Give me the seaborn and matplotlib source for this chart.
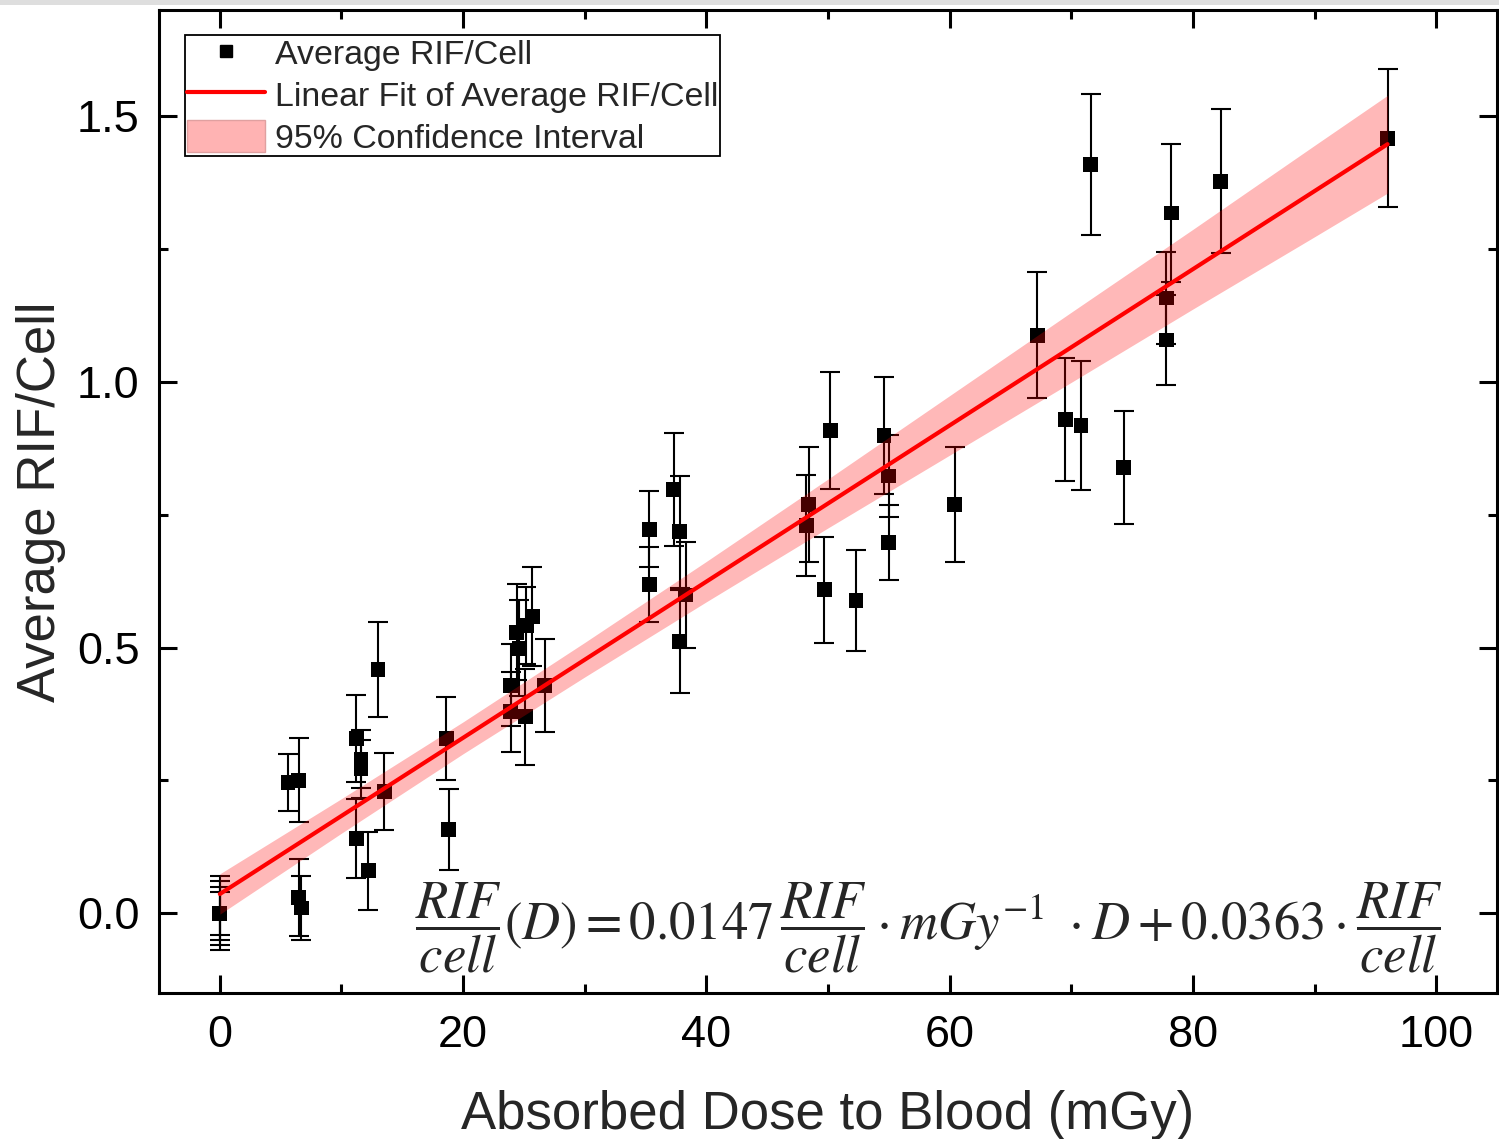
import matplotlib
matplotlib.use("Agg")
import matplotlib.pyplot as plt
from matplotlib.lines import Line2D
from matplotlib.patches import Patch, Rectangle
from matplotlib.ticker import MultipleLocator
import numpy as np
import pandas as pd
import seaborn as sns

# measured points (dose in mGy, average RIF per cell, error)
dose = [0, 0, 0, 0, 5.6, 6.5, 6.5, 6.7, 11.2, 11.6, 11.6, 11.2, 12.2, 13.0, 13.5,
        18.6, 18.8, 23.9, 23.9, 24.4, 24.6, 25.1, 25.2, 25.7, 26.7,
        35.3, 35.3, 37.3, 37.8, 38.3, 37.8,
        48.4, 48.2, 50.2, 49.7, 52.3, 54.6, 55.0, 55.0, 60.4,
        67.2, 69.5, 70.8, 71.6, 74.3, 78.2, 77.8, 77.8, 82.3, 96.0]
rif = [0.0, 0.0, 0.0, 0.0, 0.246, 0.250, 0.030, 0.010, 0.329, 0.290, 0.272, 0.141, 0.080, 0.459, 0.229,
       0.329, 0.158, 0.429, 0.379, 0.529, 0.499, 0.370, 0.542, 0.559, 0.429,
       0.723, 0.619, 0.798, 0.718, 0.599, 0.511,
       0.769, 0.730, 0.909, 0.609, 0.589, 0.900, 0.823, 0.698, 0.769,
       1.088, 0.929, 0.918, 1.409, 0.839, 1.318, 1.158, 1.079, 1.378, 1.459]
rif_err = [0.040, 0.050, 0.060, 0.070, 0.054, 0.079, 0.072, 0.060, 0.082, 0.055, 0.055, 0.074, 0.073, 0.090, 0.072,
           0.078, 0.076, 0.077, 0.076, 0.090, 0.090, 0.090, 0.072, 0.093, 0.088,
           0.072, 0.070, 0.106, 0.105, 0.100, 0.097,
           0.108, 0.095, 0.110, 0.100, 0.095, 0.110, 0.077, 0.070, 0.108,
           0.119, 0.116, 0.121, 0.133, 0.106, 0.130, 0.086, 0.084, 0.135, 0.130]

# linear fit as printed on the chart
slope = 0.0147
intercept = 0.0363
fit_dose = [0.0, 96.0]

# half width of the 95% confidence band read at these doses
band_dose = [0, 10, 20, 30, 40, 50, 60, 70, 80, 90, 96]
band_half = [0.038, 0.0325, 0.030, 0.0325, 0.038, 0.046, 0.056, 0.066, 0.075, 0.086, 0.092]

df = pd.DataFrame({"dose": dose, "rif": rif, "err": rif_err})
fit_df = pd.DataFrame({"dose": fit_dose})
fit_df["rif"] = slope * fit_df["dose"] + intercept
band_df = pd.DataFrame({"dose": band_dose, "half": band_half})
band_df["mid"] = slope * band_df["dose"] + intercept

sns.set_style("ticks")
plt.rcParams["font.family"] = ["Liberation Sans", "DejaVu Sans"]
plt.rcParams["mathtext.fontset"] = "stix"

fig = plt.figure(figsize=(14.99, 11.39), dpi=100)
ax = fig.add_axes([0.1061, 0.1282, 0.8926, 0.863])

ax.errorbar(df["dose"], df["rif"], yerr=df["err"], fmt="none", ecolor="black",
            elinewidth=1.5, capsize=7, capthick=1.5, zorder=2)
sns.scatterplot(data=df, x="dose", y="rif", marker="s", s=115, color="black",
                edgecolor="none", linewidth=0, ax=ax, zorder=3, legend=False)
ax.fill_between(band_df["dose"], band_df["mid"] - band_df["half"], band_df["mid"] + band_df["half"],
                color="red", alpha=0.28, linewidth=0, zorder=4)
sns.lineplot(data=fit_df, x="dose", y="rif", color="red", linewidth=3.0, ax=ax, zorder=5)

ax.set_xlim(-5, 105)
ax.set_ylim(-0.15, 1.70)
ax.xaxis.set_major_locator(MultipleLocator(20))
ax.xaxis.set_minor_locator(MultipleLocator(10))
ax.yaxis.set_major_locator(MultipleLocator(0.5))
ax.yaxis.set_minor_locator(MultipleLocator(0.25))
ax.tick_params(which="both", direction="in", top=True, right=True, width=2.2, colors="black")
ax.tick_params(which="major", length=13, labelsize=32.5, pad=14)
ax.tick_params(axis="x", which="major", pad=16)
ax.tick_params(which="minor", length=6.5)
for sp in ax.spines.values():
    sp.set_linewidth(2.2)
    sp.set_color("black")

ax.set_xlabel("Absorbed Dose to Blood (mGy)", fontsize=38, labelpad=24)
ax.set_ylabel("Average RIF/Cell", fontsize=38, labelpad=8)

handles = [
    Line2D([], [], marker="s", linestyle="none", color="black", markersize=8),
    Line2D([], [], color="red", linewidth=3.0),
    Patch(facecolor="#ffb3b3", edgecolor="#e0a0a0", linewidth=1),
]
labels = ["Average RIF/Cell", "Linear Fit of Average RIF/Cell", "95% Confidence Interval"]
leg = ax.legend(handles, labels, loc="upper left", bbox_to_anchor=(0.0194, 0.9746),
                borderaxespad=0, fontsize=24.4, frameon=True, fancybox=False,
                edgecolor="black", framealpha=1, handlelength=2.3, handleheight=1.1,
                handletextpad=0.3, labelspacing=0.2, borderpad=0.05, numpoints=1)
leg.get_frame().set_linewidth(1.3)
leg.set_zorder(10)

eq = (r"$\dfrac{RIF}{cell}(D) = 0.0147\,\dfrac{RIF}{cell}\cdot mGy^{-1}\ \cdot D"
      r" + 0.0363\cdot\dfrac{RIF}{cell}$")
ax.text(0.191, 0.066, eq, transform=ax.transAxes, ha="left", va="center",
        fontsize=38, zorder=6)

fig.patches.append(Rectangle((0, 1 - 5 / 1139), 1, 5 / 1139, transform=fig.transFigure,
                             facecolor="#dedede", edgecolor="none"))

fig.savefig("out.png", dpi=100)
